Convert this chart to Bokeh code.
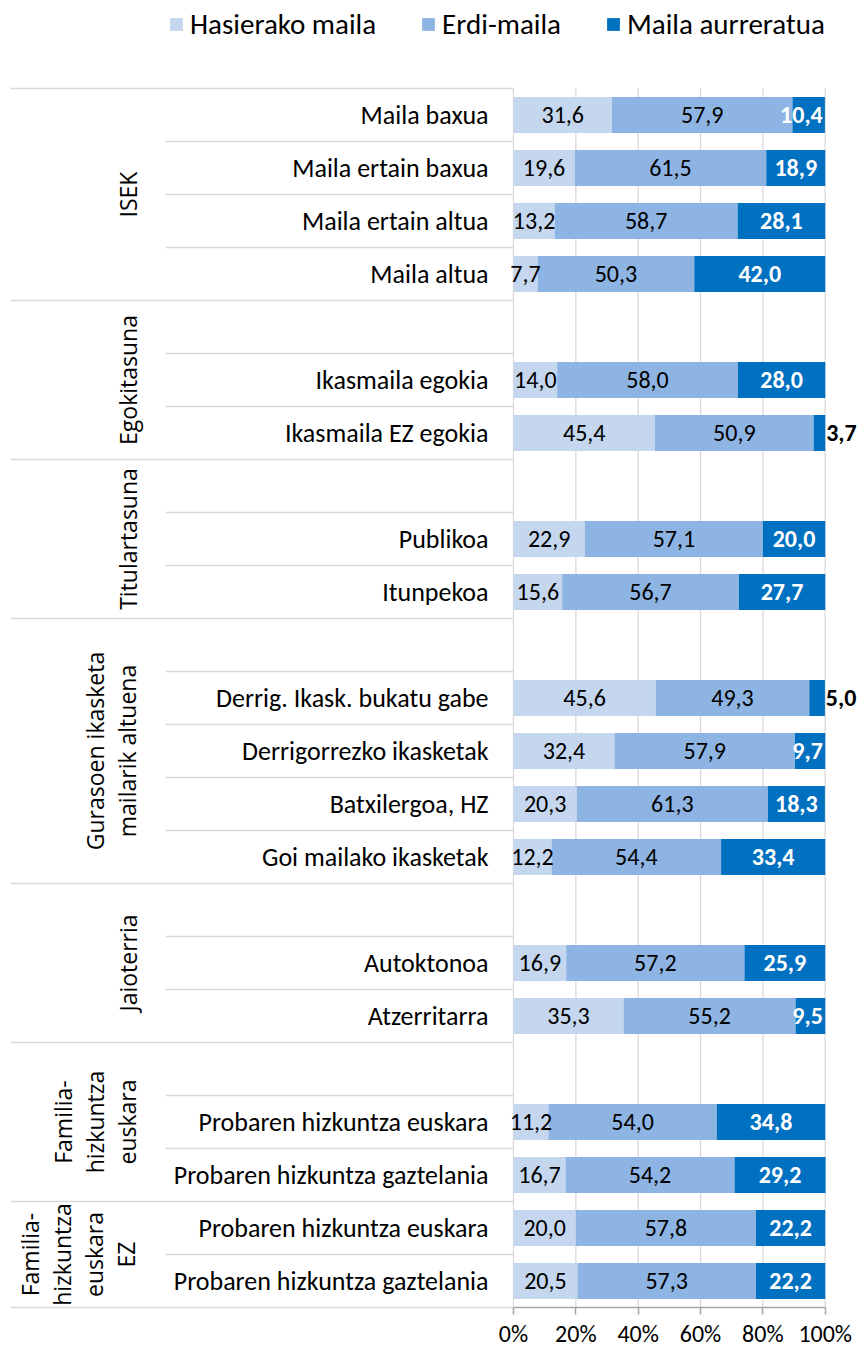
import numpy as np
from bokeh.plotting import figure
from bokeh.models import (ColumnDataSource, Range1d, LinearAxis, FixedTicker,
                          Legend, LegendItem)
from bokeh.core.properties import value
from bokeh.embed import file_html
from bokeh.resources import INLINE

# ---------------- data ----------------
categories = [
    "Maila baxua", "Maila ertain baxua", "Maila ertain altua", "Maila altua",
    "", "Ikasmaila egokia", "Ikasmaila EZ egokia",
    "", "Publikoa", "Itunpekoa",
    "", "Derrig. Ikask. bukatu gabe", "Derrigorrezko ikasketak", "Batxilergoa, HZ", "Goi mailako ikasketak",
    "", "Autoktonoa", "Atzerritarra",
    "", "Probaren hizkuntza euskara", "Probaren hizkuntza gaztelania",
    "Probaren hizkuntza euskara", "Probaren hizkuntza gaztelania",
]
hasierako = [31.6, 19.6, 13.2, 7.7, None, 14.0, 45.4, None, 22.9, 15.6, None,
             45.6, 32.4, 20.3, 12.2, None, 16.9, 35.3, None, 11.2, 16.7, 20.0, 20.5]
erdi = [57.9, 61.5, 58.7, 50.3, None, 58.0, 50.9, None, 57.1, 56.7, None,
        49.3, 57.9, 61.3, 54.4, None, 57.2, 55.2, None, 54.0, 54.2, 57.8, 57.3]
aurreratua = [10.4, 18.9, 28.1, 42.0, None, 28.0, 3.7, None, 20.0, 27.7, None,
              5.0, 9.7, 18.3, 33.4, None, 25.9, 9.5, None, 34.8, 29.2, 22.2, 22.2]
series_names = ["Hasierako maila", "Erdi-maila", "Maila aurreratua"]
groups = ["ISEK", "Egokitasuna", "Titulartasuna", "Gurasoen ikasketa\nmailarik altuena",
          "Jaioterria", "Familia-\nhizkuntza\neuskara", "Familia-\nhizkuntza\neuskara\nEZ"]
group_sizes = [4, 3, 3, 5, 3, 3, 2]
tick_values = [0, 20, 40, 60, 80, 100]
tick_labels = ["0%", "20%", "40%", "60%", "80%", "100%"]

# ---------------- style / layout ----------------
colors = ["#C5D7EF", "#8EB4E3", "#0070C0"]
NARROW = "Carlito, Lato, 'Liberation Sans'"
OPEN = "Open Sans"
TXT = "#000000"
GRID = "#D9D9D9"

W, H = 862, 1349
PX0 = 513.0          # px of 0 %
PXU = 3.117          # px per percent
TOP = 88.0           # px of first row top
ROW = 53.0           # px per row
n_rows = len(categories)
VAL_PX = 24

def xd(px):
    return (px - PX0) / PXU

def text_w(s):
    # approximate label width (px) for Calibri-metric digits
    return sum(0.25 if c == "," else 0.507 for c in s) * VAL_PX

p = figure(width=W, height=H, output_backend="svg", toolbar_location=None,
           x_range=Range1d(-PX0 / PXU, (W - PX0) / PXU),
           y_range=Range1d((H - TOP) / ROW - 0.5, -TOP / ROW - 0.5),
           x_axis_location=None, y_axis_location=None, min_border=0,
           outline_line_color=None, background_fill_color="white",
           border_fill_color="white")
p.xgrid.visible = False
p.ygrid.visible = False

# vertical grid lines
p.segment(x0=tick_values, x1=tick_values, y0=[-0.5] * len(tick_values),
          y1=[n_rows - 0.5] * len(tick_values), line_color=GRID, line_width=1.3)

# bars
rows = [i for i, v in enumerate(hasierako) if v is not None]
vals = [[s[i] for i in rows] for s in (hasierako, erdi, aurreratua)]
lefts = []
cum = np.zeros(len(rows))
renderers = []
for k, v in enumerate(vals):
    v = np.array(v)
    src = ColumnDataSource(dict(y=rows, left=cum.copy(), right=cum + v, v=v))
    r = p.hbar(y="y", left="left", right="right", height=0.68, source=src,
               fill_color=colors[k], line_color=None)
    renderers.append(r)
    lefts.append(cum.copy())
    cum = cum + v

def fmt(x):
    return f"{x:.1f}".replace(".", ",")

VAL_FS = f"{VAL_PX}px"
# value labels: first two series
for k in (0, 1):
    v = np.array(vals[k])
    src = ColumnDataSource(dict(x=lefts[k] + v / 2, y=rows, t=[fmt(a) for a in v]))
    p.text(x="x", y="y", text="t", source=src, text_font=value(NARROW),
           text_font_size=value(VAL_FS), text_align="center", text_baseline="middle",
           text_color=TXT)

# third series: inside white bold (kept inside the plot), small ones outside black bold
v3 = np.array(vals[2])
inside = v3 >= 6
t_in = [fmt(a) for a in v3[inside]]
cx = (lefts[2] + v3 / 2)[inside]
cx = np.minimum(cx, [100 - (text_w(t) / 2 + 2.5) / PXU for t in t_in])
src_in = ColumnDataSource(dict(x=cx, y=np.array(rows)[inside], t=t_in))
p.text(x="x", y="y", text="t", source=src_in, text_font=value(NARROW),
       text_font_size=value(VAL_FS), text_font_style="bold", text_align="center",
       text_baseline="middle", text_color="white")
out = ~inside
src_out = ColumnDataSource(dict(x=(lefts[2] + v3)[out] + 0.3, y=np.array(rows)[out],
                                t=[fmt(a) for a in v3[out]]))
p.text(x="x", y="y", text="t", source=src_out, text_font=value(NARROW),
       text_font_size=value(VAL_FS), text_font_style="bold", text_align="left",
       text_baseline="middle", text_color="black")

# category labels
lab_rows = [i for i, c in enumerate(categories) if c]
p.text(x=[xd(488)] * len(lab_rows), y=lab_rows, text=[categories[i] for i in lab_rows],
       text_font=value(NARROW), text_font_size=value("26px"), text_align="right",
       text_baseline="middle", text_color=TXT)

# separator lines
bounds = np.concatenate([[0], np.cumsum(group_sizes)]) - 0.5
gset = set(bounds.tolist())
row_b = [b - 0.5 for b in range(1, n_rows) if (b - 0.5) not in gset]
p.segment(x0=[xd(165)] * len(row_b), x1=[0] * len(row_b), y0=row_b, y1=row_b,
          line_color=GRID, line_width=1.5)
p.segment(x0=[xd(10)] * len(bounds), x1=[0] * len(bounds), y0=bounds, y1=bounds,
          line_color=GRID, line_width=1.5)

# group labels (rotated)
g_centers = (bounds[:-1] + bounds[1:]) / 2
n_lines = [g.count("\n") + 1 for g in groups]
g_x = [xd(127 - 16.5 * (n - 1)) for n in n_lines]
p.text(x=g_x, y=g_centers, text=groups, angle=np.pi / 2, text_font=value(OPEN),
       text_font_size=value("23px"), text_line_height=1.0, text_align="center",
       text_baseline="middle", text_color=TXT)

# x axis
ax = LinearAxis(ticker=FixedTicker(ticks=tick_values), bounds=(0, 100),
                fixed_location=n_rows - 0.5,
                major_label_overrides={t: l for t, l in zip(tick_values, tick_labels)},
                axis_line_color="#A6A6A6", axis_line_width=1.5,
                major_tick_line_color="#A6A6A6", major_tick_line_width=1.5,
                major_tick_in=0, major_tick_out=7, minor_tick_line_color=None,
                major_label_standoff=4, major_label_text_font=NARROW,
                major_label_text_font_size="24px", major_label_text_color=TXT)
p.add_layout(ax, "below")

# legend
legend = Legend(items=[LegendItem(label=n, renderers=[r]) for n, r in zip(series_names, renderers)],
                orientation="horizontal", location=(168, H - 42),
                label_text_font=NARROW, label_text_font_size="29px",
                label_text_color=TXT, glyph_width=16, glyph_height=16,
                label_standoff=6, spacing=44, padding=0, margin=0,
                border_line_color=None, background_fill_alpha=0)
p.add_layout(legend)

open("out.html", "w").write(file_html(p, INLINE))
